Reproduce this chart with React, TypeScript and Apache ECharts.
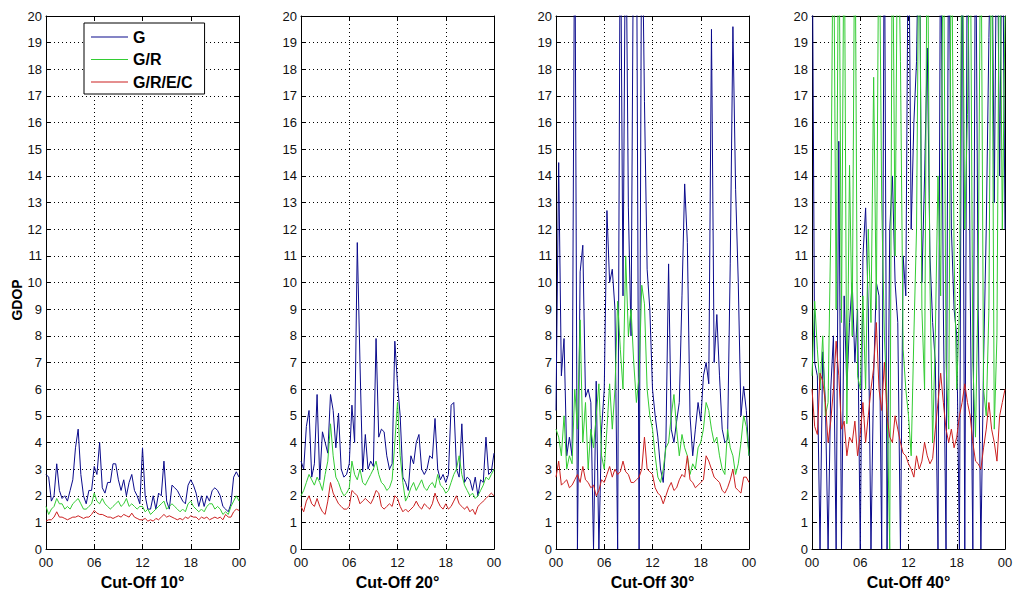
import React, { useEffect, useRef } from "react";
import * as echarts from "echarts";

// ---- data (GDOP values sampled every 20 minutes over 24 h) ----
const TICK_LABELS = ["00", "06", "12", "18", "00"];
const PANEL_TITLES = ["Cut-Off 10°", "Cut-Off 20°", "Cut-Off 30°", "Cut-Off 40°"];
const SERIES_NAMES = ["G", "G/R", "G/R/E/C"];

const G_10 = [2.8, 2.7, 1.8, 2.0, 3.2, 2.2, 1.9, 2.0, 1.8, 2.2, 2.6, 3.8, 4.5, 2.8, 2.0, 1.7, 2.2, 2.2, 3.1, 2.8, 4.0, 2.3, 2.1, 2.5, 2.5, 3.2, 3.2, 2.6, 2.2, 2.6, 2.0, 2.5, 2.8, 2.2, 2.0, 1.7, 3.8, 2.0, 1.5, 1.5, 2.0, 1.5, 2.1, 2.0, 3.3, 1.8, 1.5, 2.4, 2.3, 2.2, 2.0, 1.8, 1.7, 2.4, 2.6, 2.4, 2.1, 1.6, 2.0, 1.6, 2.0, 1.8, 2.2, 2.3, 2.2, 2.0, 1.6, 1.5, 1.4, 1.7, 2.7, 2.9, 2.7];
const GR_10 = [1.6, 1.3, 1.5, 1.6, 1.9, 1.7, 1.7, 1.5, 1.6, 1.5, 1.7, 1.8, 1.9, 1.7, 1.5, 1.5, 1.6, 1.7, 2.1, 1.8, 1.7, 1.9, 1.7, 1.6, 1.5, 1.6, 1.7, 1.8, 1.6, 1.7, 1.9, 1.6, 1.7, 1.6, 1.5, 1.6, 1.6, 1.4, 1.5, 1.3, 1.4, 1.5, 1.6, 1.7, 1.8, 1.5, 1.6, 1.7, 1.6, 1.5, 1.4, 1.5, 1.4, 1.7, 1.8, 1.6, 1.5, 1.4, 1.5, 1.4, 1.6, 1.7, 1.7, 1.5, 1.6, 1.5, 1.3, 1.4, 1.3, 1.6, 1.8, 2.0, 1.8];
const GREC_10 = [1.05, 1.1, 1.1, 1.2, 1.4, 1.2, 1.2, 1.15, 1.1, 1.15, 1.2, 1.2, 1.25, 1.2, 1.15, 1.2, 1.2, 1.3, 1.45, 1.35, 1.3, 1.3, 1.25, 1.2, 1.2, 1.15, 1.2, 1.25, 1.2, 1.3, 1.25, 1.2, 1.35, 1.2, 1.15, 1.1, 1.1, 1.15, 1.05, 1.1, 1.05, 1.15, 1.1, 1.2, 1.3, 1.2, 1.25, 1.2, 1.15, 1.1, 1.15, 1.1, 1.2, 1.15, 1.25, 1.2, 1.2, 1.1, 1.2, 1.15, 1.2, 1.1, 1.15, 1.2, 1.15, 1.2, 1.1, 1.3, 1.2, 1.2, 1.4, 1.5, 1.45];

const G_20 = [3.3, 3.0, 4.6, 5.2, 2.7, 3.2, 5.8, 2.6, 4.4, 4.0, 3.6, 5.8, 5.2, 3.8, 5.1, 3.0, 2.7, 2.8, 3.2, 5.4, 4.0, 11.5, 7.0, 2.9, 4.3, 3.0, 3.3, 3.1, 7.9, 4.2, 4.5, 4.4, 3.5, 3.0, 3.2, 7.8, 6.2, 5.0, 2.7, 2.5, 2.2, 3.5, 3.2, 4.0, 4.3, 3.0, 2.8, 3.0, 3.5, 3.4, 4.9, 3.0, 2.6, 2.8, 2.5, 2.8, 5.4, 5.5, 3.0, 2.7, 4.7, 2.5, 2.7, 2.6, 2.2, 2.7, 2.0, 2.6, 2.5, 4.2, 2.8, 2.9, 3.6];
const GR_20 = [2.0, 2.2, 2.5, 2.8, 2.6, 2.4, 2.7, 2.5, 2.2, 2.8, 3.3, 4.7, 3.5, 2.7, 2.5, 2.2, 2.0, 2.1, 2.3, 3.3, 2.8, 2.6, 3.0, 2.5, 2.4, 2.6, 2.8, 3.0, 3.3, 2.8, 2.5, 2.4, 2.2, 2.3, 2.6, 4.0, 5.5, 3.5, 2.5, 1.8, 2.0, 2.3, 2.5, 2.2, 2.4, 2.6, 2.3, 2.2, 2.4, 2.5, 2.3, 2.8, 2.4, 2.3, 2.1, 2.2, 2.5, 2.8, 3.0, 3.5, 2.8, 2.4, 2.2, 2.0, 2.1, 1.9, 2.0, 2.2, 2.4, 2.7, 2.6, 2.8, 3.0];
const GREC_20 = [1.6, 1.4, 1.8, 2.0, 1.7, 1.6, 1.9, 1.6, 1.4, 1.3, 1.8, 2.5, 2.1, 1.9, 1.7, 1.6, 1.5, 1.5, 1.6, 2.2, 2.1, 2.0, 1.7, 1.8, 1.9, 1.8, 1.7, 1.9, 2.2, 2.1, 1.6, 1.5, 1.6, 1.7, 1.6, 2.0, 1.9, 1.6, 1.4, 1.5, 1.4, 1.5, 1.6, 1.8, 1.6, 1.5, 1.7, 1.6, 1.5, 1.7, 2.1, 1.8, 1.6, 1.5, 1.7, 1.5, 1.6, 1.8, 2.0, 1.7, 1.6, 1.5, 1.6, 1.4, 1.5, 1.3, 1.6, 1.7, 1.8, 1.9, 2.0, 2.1, 2.0];

const G_30 = [5.2, 14.5, 6.5, 7.9, 3.5, 4.2, 3.5, 25, 0, 10.4, 11.4, 5.7, 6.0, 5.5, 0, 6.3, 0, 4.5, 6.0, 12.7, 10.0, 10.5, 9.0, 0, 25, 9.5, 25, 12.8, 8.0, 25, 25, 0, 25, 16.8, 10.5, 9.0, 6.0, 5.0, 4.2, 3.0, 2.5, 4.0, 10.7, 4.5, 4.0, 4.8, 5.5, 9.5, 13.7, 11.5, 5.0, 3.5, 4.5, 5.5, 4.8, 6.5, 7.0, 6.2, 19.5, 7.0, 8.8, 6.5, 4.5, 4.0, 4.1, 10.7, 19.6, 13.5, 10.0, 5.0, 6.1, 5.2, 3.5];
const GR_30 = [4.5, 4.2, 3.5, 5.0, 3.0, 3.5, 3.2, 6.0, 4.5, 8.6, 4.0, 5.5, 3.0, 4.5, 3.8, 5.0, 6.2, 3.5, 3.0, 4.5, 6.2, 4.5, 6.0, 9.3, 7.5, 6.0, 11.0, 8.0, 9.0, 7.0, 5.5, 6.5, 9.9, 9.2, 6.0, 5.0, 4.5, 3.5, 2.7, 2.5, 3.0, 3.8, 4.0, 5.0, 5.8, 4.5, 3.5, 4.3, 3.8, 3.5, 2.8, 3.2, 3.0, 3.8, 4.0, 4.5, 5.5, 5.2, 4.5, 4.0, 4.2, 3.5, 3.0, 2.8, 4.5, 3.8, 3.5, 2.8, 3.2, 4.0, 5.0, 4.6, 3.5];
const GREC_30 = [2.7, 3.3, 2.4, 2.5, 2.6, 2.3, 2.4, 2.6, 2.8, 2.5, 3.1, 2.6, 2.5, 2.3, 2.4, 2.0, 2.2, 2.6, 2.5, 2.8, 3.1, 2.7, 3.0, 2.8, 2.9, 3.3, 2.9, 2.8, 2.5, 2.5, 2.6, 2.7, 3.0, 4.2, 3.0, 2.9, 2.8, 2.3, 2.1, 2.0, 1.7, 2.0, 2.3, 2.5, 2.2, 2.3, 2.6, 2.8, 2.7, 3.5, 2.6, 2.5, 2.3, 2.4, 2.5, 2.6, 3.5, 3.3, 3.0, 2.7, 2.6, 2.5, 2.2, 2.1, 2.3, 2.6, 3.0, 2.3, 2.2, 2.1, 2.7, 2.7, 2.5];

const G_40 = [25, 7.0, 6.5, 0, 7.4, 5.5, 0, 6.0, 8.0, 0, 15.3, 0, 9.5, 6.0, 8.5, 10.0, 7.0, 9.0, 0, 11.0, 12.8, 9.0, 0, 6.5, 10.0, 9.5, 0, 25, 0, 12.0, 14.0, 10.0, 8.5, 0, 11.0, 9.5, 25, 12.0, 16.0, 18.3, 25, 10.0, 14.0, 18.8, 11.0, 8.5, 7.0, 0, 25, 9.0, 0, 25, 12.0, 9.0, 8.0, 0, 25, 0, 25, 10.0, 0, 25, 9.0, 0, 7.0, 12.0, 19.2, 25, 13.0, 25, 14.0, 25, 12.0];
const GR_40 = [6.5, 9.3, 7.5, 6.0, 8.0, 5.0, 5.5, 12.0, 25, 9.0, 25, 8.5, 25, 4.7, 14.4, 8.0, 25, 6.5, 6.0, 9.5, 6.0, 12.0, 8.5, 17.7, 9.0, 25, 13.0, 8.0, 5.5, 0, 25, 11.0, 25, 18.3, 7.5, 6.0, 5.0, 3.5, 8.0, 12.0, 25, 9.0, 6.0, 25, 10.0, 4.0, 8.0, 14.0, 9.5, 25, 7.0, 4.5, 25, 11.0, 6.0, 9.0, 25, 12.0, 16.3, 25, 7.0, 4.2, 10.0, 25, 6.0, 5.0, 9.0, 25, 4.5, 8.0, 25, 12.0, 20.0];
const GREC_40 = [6.0, 4.6, 4.3, 6.6, 6.3, 5.5, 4.0, 4.8, 6.0, 7.8, 6.5, 4.5, 4.8, 3.5, 4.2, 4.0, 4.8, 3.5, 4.3, 5.5, 4.0, 5.0, 6.0, 6.8, 8.5, 6.0, 5.2, 7.0, 5.0, 4.2, 4.0, 5.0, 4.5, 4.0, 3.6, 3.5, 3.2, 3.0, 2.7, 3.5, 3.0, 3.3, 4.0, 3.5, 3.2, 3.4, 4.5, 5.5, 6.6, 5.5, 4.5, 4.0, 4.5, 3.8, 4.2, 5.0, 5.5, 6.2, 5.5, 5.0, 4.0, 3.3, 3.2, 3.0, 3.8, 4.5, 5.5, 4.5, 4.0, 3.3, 5.0, 5.5, 6.0];

const PANELS = [
  [G_10, GR_10, GREC_10],
  [G_20, GR_20, GREC_20],
  [G_30, GR_30, GREC_30],
  [G_40, GR_40, GREC_40],
];

// ---- styling ----
const COLORS = ["#0b0b8c", "#33cc33", "#cc2020"];
const FONT = "Liberation Sans, Arial, sans-serif";
const GRID_LEFTS = [46, 301, 556, 812];
const GRID_WIDTH = 193;
const GRID_TOP = 16;
const GRID_HEIGHT = 535;

function toPairs(values: number[]) {
  const n = values.length - 1;
  return values.map((v, i) => [(i * 24) / n, v]);
}

export default function App() {
  const ref = useRef<HTMLDivElement>(null);

  useEffect(() => {
    if (!ref.current) return;
    const chart = echarts.init(ref.current, undefined, { renderer: "svg" });

    const grid: any[] = [];
    const xAxis: any[] = [];
    const yAxis: any[] = [];
    const series: any[] = [];

    const dotted = { color: "#000", width: 1, type: [1, 3] };

    PANELS.forEach((panel, p) => {
      grid.push({
        left: GRID_LEFTS[p],
        top: GRID_TOP,
        width: GRID_WIDTH,
        height: GRID_HEIGHT,
        containLabel: false,
      });
      // bottom x axis
      xAxis.push({
        type: "value",
        gridIndex: p,
        min: 0,
        max: 24,
        interval: 6,
        position: "bottom",
        axisLine: { show: true, onZero: false, lineStyle: { color: "#000", width: 1 } },
        axisTick: { show: true, inside: true, length: 5, lineStyle: { color: "#000" } },
        axisLabel: {
          show: true,
          margin: 7,
          fontFamily: FONT,
          fontSize: 13,
          color: "#111",
          showMinLabel: true,
          showMaxLabel: true,
          formatter: (v: number) => TICK_LABELS[Math.round(v / 6)],
        },
        splitLine: { show: true, lineStyle: dotted },
        name: PANEL_TITLES[p],
        nameLocation: "middle",
        nameGap: 21,
        nameTextStyle: { fontFamily: FONT, fontSize: 16, fontWeight: "bold", color: "#000" },
      });
      // top x axis (box)
      xAxis.push({
        type: "value",
        gridIndex: p,
        min: 0,
        max: 24,
        interval: 6,
        position: "top",
        axisLine: { show: true, onZero: false, lineStyle: { color: "#000", width: 1 } },
        axisTick: { show: true, inside: true, length: 5, lineStyle: { color: "#000" } },
        axisLabel: { show: false },
        splitLine: { show: false },
      });
      // left y axis
      yAxis.push({
        type: "value",
        gridIndex: p,
        min: 0,
        max: 20,
        interval: 1,
        position: "left",
        axisLine: { show: true, onZero: false, lineStyle: { color: "#000", width: 1 } },
        axisTick: { show: true, inside: true, length: 5, lineStyle: { color: "#000" } },
        axisLabel: { show: true, margin: 4, fontFamily: FONT, fontSize: 13, color: "#111" },
        splitLine: { show: true, lineStyle: dotted },
      });
      // right y axis (box)
      yAxis.push({
        type: "value",
        gridIndex: p,
        min: 0,
        max: 20,
        interval: 1,
        position: "right",
        axisLine: { show: true, onZero: false, lineStyle: { color: "#000", width: 1 } },
        axisTick: { show: true, inside: true, length: 5, lineStyle: { color: "#000" } },
        axisLabel: { show: false },
        splitLine: { show: false },
      });

      panel.forEach((values, s) => {
        series.push({
          type: "line",
          name: SERIES_NAMES[s],
          xAxisIndex: p * 2,
          yAxisIndex: p * 2,
          data: toPairs(values),
          symbol: "none",
          showSymbol: false,
          clip: true,
          lineStyle: { color: COLORS[s], width: 1 },
          itemStyle: { color: COLORS[s] },
          emphasis: { disabled: true },
          z: 2 + s,
        });
      });
    });

    chart.setOption({
      animation: false,
      backgroundColor: "#fff",
      grid,
      xAxis,
      yAxis,
      series,
      legend: {
        data: SERIES_NAMES,
        orient: "vertical",
        left: 84,
        top: 23,
        width: 118,
        padding: [5, 12, 3, 7],
        itemGap: 4.5,
        icon: "rect",
        itemWidth: 37,
        itemHeight: 1,
        backgroundColor: "#fff",
        borderColor: "#000",
        borderWidth: 1,
        borderRadius: 0,
        selectedMode: false,
        textStyle: { fontFamily: FONT, fontSize: 16, fontWeight: "bold", color: "#000", lineHeight: 18 },
      },
      graphic: [
        {
          type: "text",
          x: 17,
          y: 300,
          rotation: Math.PI / 2,
          style: {
            text: "GDOP",
            fontFamily: FONT,
            fontSize: 14,
            fontWeight: "bold",
            fill: "#000",
            textAlign: "center",
            textVerticalAlign: "middle",
          },
        },
      ],
    });

    return () => chart.dispose();
  }, []);

  return (
    <div
      ref={ref}
      style={{ position: "fixed", left: 0, top: 0, width: 1024, height: 595, background: "#fff" }}
    />
  );
}
